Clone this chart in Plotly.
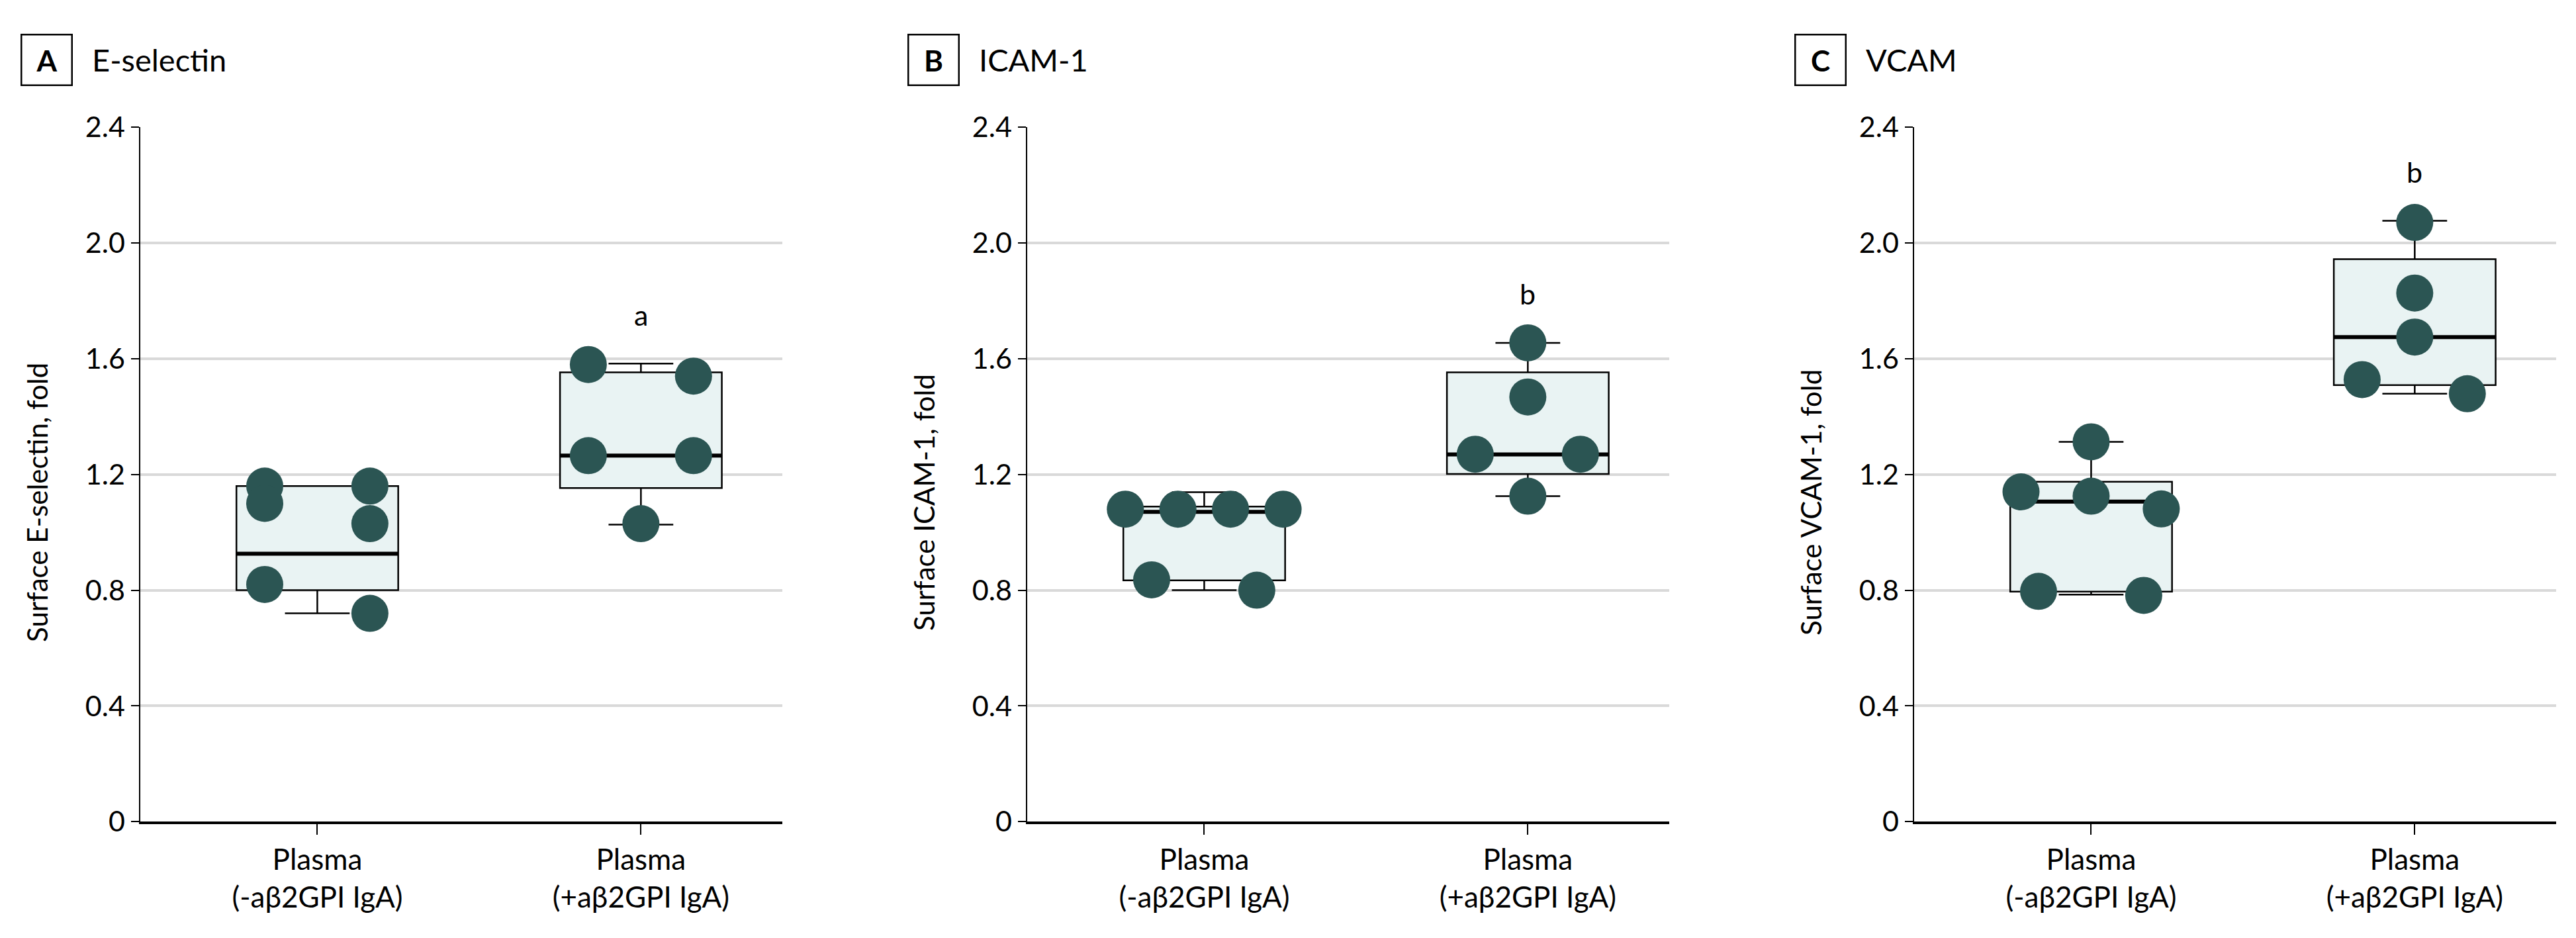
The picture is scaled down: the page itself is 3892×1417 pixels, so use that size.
import plotly.graph_objects as go

panel_letters = ["A", "B", "C"]
panel_titles = ["E-selectin", "ICAM-1", "VCAM"]
y_titles = ["Surface E-selectin, fold", "Surface ICAM-1, fold", "Surface VCAM-1, fold"]
categories = ["Plasma<br>(-aβ2GPI IgA)", "Plasma<br>(+aβ2GPI IgA)"]
y_ticks = [0, 0.4, 0.8, 1.2, 1.6, 2.0, 2.4]
y_tick_labels = ["0", "0.4", "0.8", "1.2", "1.6", "2.0", "2.4"]
sig_labels = ["a", "b", "b"]

# individual samples (fold change)
esel_minus = [1.16, 1.16, 1.10, 1.03, 0.82, 0.72]
esel_plus = [1.58, 1.54, 1.265, 1.265, 1.03]
icam_minus = [1.08, 1.08, 1.08, 1.08, 0.836, 0.80]
icam_plus = [1.655, 1.468, 1.27, 1.27, 1.125]
vcam_minus = [1.313, 1.14, 1.125, 1.081, 0.796, 0.782]
vcam_plus = [2.071, 1.827, 1.675, 1.528, 1.479]

# box stats as drawn: lower whisker, q1, median, q3, upper whisker
esel_box_minus = [0.72, 0.80, 0.926, 1.16, 1.16]
esel_box_plus = [1.027, 1.153, 1.265, 1.553, 1.583]
icam_box_minus = [0.80, 0.834, 1.071, 1.089, 1.139]
icam_box_plus = [1.125, 1.202, 1.269, 1.553, 1.655]
vcam_box_minus = [0.785, 0.795, 1.106, 1.175, 1.313]
vcam_box_plus = [1.479, 1.509, 1.675, 1.944, 2.077]

panel_points = [[esel_minus, esel_plus], [icam_minus, icam_plus], [vcam_minus, vcam_plus]]
panel_boxes = [[esel_box_minus, esel_box_plus], [icam_box_minus, icam_box_plus],
               [vcam_box_minus, vcam_box_plus]]

DOT = "#2b5553"
FILL = "#e9f3f3"
GRID = "#d9d9d9"
FONT = "Lato, Open Sans, sans-serif"
W, H = 3892, 1417
BOX_W = 0.5
Y_DOMAIN = [0.1169, 0.8849]


def swarm_offsets(values, gap=0.12):
    """GraphPad-like scatter: nearby points are spread side by side."""
    order = sorted(range(len(values)), key=lambda i: -values[i])
    clusters = []
    for i in order:
        if clusters and values[clusters[-1][-1]] - values[i] < gap:
            clusters[-1].append(i)
        else:
            clusters.append([i])
    offsets = [0.0] * len(values)
    for cl in clusters:
        n = len(cl)
        spread = values[cl[0]] - values[cl[-1]]
        cols = n if (n <= 3 or spread < 0.03) else 2
        step = 0.65 / cols
        for k, i in enumerate(cl):
            offsets[i] = ((k % cols) - (cols - 1) / 2) * step
    return offsets


fig = go.Figure()
annotations = []
layout_axes = {}

for p in range(3):
    sfx = "" if p == 0 else str(p + 1)
    xa, ya = "x" + sfx, "y" + sfx
    for c in range(2):
        lo, q1, med, q3, hi = panel_boxes[p][c]
        fig.add_trace(go.Box(
            x=[c], q1=[q1], median=[med], q3=[q3], lowerfence=[lo], upperfence=[hi],
            width=BOX_W, whiskerwidth=0.4, fillcolor=FILL,
            line=dict(color="black", width=2.5), boxpoints=False,
            xaxis=xa, yaxis=ya, showlegend=False, hoverinfo="skip",
        ))
        fig.add_trace(go.Scatter(
            x=[c - BOX_W / 2, c + BOX_W / 2], y=[med, med], mode="lines",
            line=dict(color="black", width=6), xaxis=xa, yaxis=ya,
            showlegend=False, hoverinfo="skip",
        ))
    for c in range(2):
        vals = panel_points[p][c]
        offs = swarm_offsets(vals)
        fig.add_trace(go.Scatter(
            x=[c + o for o in offs], y=vals, mode="markers",
            marker=dict(size=56, color=DOT, line=dict(width=0)),
            xaxis=xa, yaxis=ya, showlegend=False,
        ))

    left = (203.5 + 1340 * p) / W
    right = (203.5 + 1340 * p + 970.5) / W
    layout_axes["xaxis" + sfx] = dict(
        domain=[left, right], range=[-0.548, 1.437], anchor=ya,
        tickvals=[0, 1], ticktext=categories, ticks="outside", ticklen=16,
        tickwidth=2, tickcolor="black", showline=True, linecolor="black",
        linewidth=4, showgrid=False, zeroline=False,
        tickfont=dict(family=FONT, size=44, color="black"),
    )
    layout_axes["yaxis" + sfx] = dict(
        domain=Y_DOMAIN, range=[0, 2.4], anchor=xa,
        tickvals=y_ticks, ticktext=y_tick_labels, ticks="outside", ticklen=12,
        tickwidth=2, tickcolor="black", showline=True, linecolor="black",
        linewidth=2, showgrid=True, gridcolor=GRID, gridwidth=4, zeroline=False,
        tickfont=dict(family=FONT, size=43, color="black"),
    )

    xd, yd = xa + " domain", ya + " domain"
    annotations.append(dict(
        xref=xd, yref=yd, x=-0.1448, y=1.097, xanchor="center", yanchor="middle",
        text="<b>" + panel_letters[p] + "</b>", showarrow=False,
        width=70, height=70, bordercolor="black", borderwidth=2.5, borderpad=2,
        font=dict(family=FONT, size=44, color="black"),
    ))
    annotations.append(dict(
        xref=xd, yref=yd, x=-0.0768, y=1.097, xanchor="left", yanchor="middle",
        text=panel_titles[p], showarrow=False,
        font=dict(family=FONT, size=47, color="black"),
    ))
    annotations.append(dict(
        xref=xd, yref=yd, x=-0.161, y=0.46, xanchor="center", yanchor="middle",
        text=y_titles[p], textangle=-90, showarrow=False,
        font=dict(family=FONT, size=42, color="black"),
    ))
    annotations.append(dict(
        xref=xa, yref=ya, x=1, y=panel_boxes[p][1][4] + 0.17,
        xanchor="center", yanchor="middle", text=sig_labels[p], showarrow=False,
        font=dict(family=FONT, size=43, color="black"),
    ))

fig.update_layout(
    width=W, height=H, margin=dict(l=0, r=0, t=0, b=0),
    paper_bgcolor="white", plot_bgcolor="white",
    annotations=annotations, **layout_axes,
)

fig.write_html("out.html")
